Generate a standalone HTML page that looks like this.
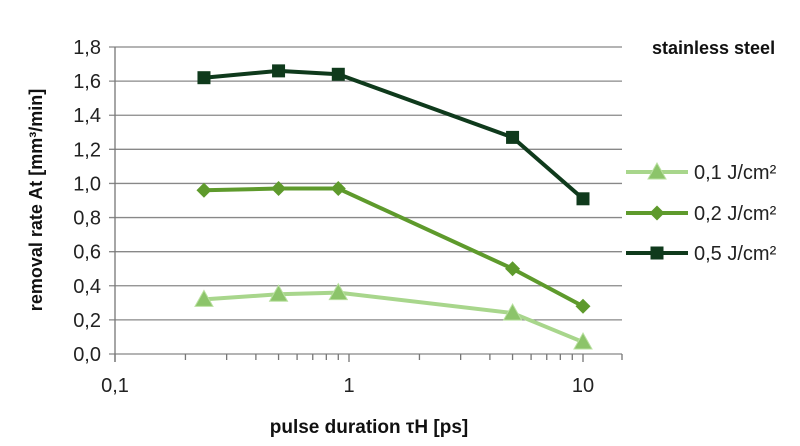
<!DOCTYPE html>
<html><head><meta charset="utf-8"><style>
html,body{margin:0;padding:0;background:#fff;}
svg{display:block;font-family:"Liberation Sans",sans-serif;}
</style></head><body>
<svg id="chart" width="800" height="446" viewBox="0 0 800 446" xmlns="http://www.w3.org/2000/svg"></svg>
<script>
const xValues = [0.24, 0.5, 0.9, 5, 10];
const series01 = [0.32, 0.35, 0.36, 0.24, 0.07];
const series02 = [0.96, 0.97, 0.97, 0.50, 0.28];
const series05 = [1.62, 1.66, 1.64, 1.27, 0.91];
const yTicks = [0, 0.2, 0.4, 0.6, 0.8, 1.0, 1.2, 1.4, 1.6, 1.8];
const xTicks = [0.1, 1, 10];
const seriesNames = ["0,1 J/cm²", "0,2 J/cm²", "0,5 J/cm²"];

const svg = document.getElementById('chart');
const NS = 'http://www.w3.org/2000/svg';
const L = 115, R = 622, T = 47, B = 354;
const xs = v => L + (Math.log10(v) + 1) * 234;
const ys = v => B - v / 1.8 * (B - T);
function mk(tag, attrs, parent) {
  const e = document.createElementNS(NS, tag);
  for (const k in attrs) e.setAttribute(k, attrs[k]);
  (parent || svg).appendChild(e);
  return e;
}
yTicks.forEach(v => {
  const g = mk('line', {x1: L - 6, x2: R, y1: ys(v), y2: ys(v), stroke: '#888', 'stroke-width': 1.3});
  
  
  const t = mk('text', {x: 101, y: ys(v) + 7, 'text-anchor': 'end', 'font-size': 20, fill: '#222'});
  t.textContent = v.toFixed(1).replace('.', ',');
  
  
});
const ya = mk('line', {x1: L, x2: L, y1: T, y2: B + 8, stroke: '#777', 'stroke-width': 1.3});


for (let d = 0.1; d < 100; d *= 10) {
  for (let m = 1; m <= 9; m++) {
    const v = d * m;
    if (xs(v) > R + 1) continue;
    const tk = mk('line', {x1: xs(v), x2: xs(v), y1: B, y2: B + (m === 1 ? 8 : 6), stroke: '#777', 'stroke-width': 1.3});
    
    
  }
}
const re = mk('line', {x1: R, x2: R, y1: B, y2: B + 6, stroke: '#777', 'stroke-width': 1.3});


xTicks.forEach(v => {
  const t = mk('text', {x: xs(v), y: 392, 'text-anchor': 'middle', 'font-size': 20, fill: '#222'});
  t.textContent = String(v).replace('.', ',');
  
  
});
const xt = mk('text', {x: 369, y: 433, 'text-anchor': 'middle', 'font-size': 19, 'font-weight': 'bold', fill: '#111'});
xt.textContent = 'pulse duration τH [ps]';


const yt = mk('text', {x: 0, y: 0, 'text-anchor': 'middle', 'font-size': 18, 'font-weight': 'bold', fill: '#111', transform: 'translate(42,200) rotate(-90)'});
yt.textContent = 'removal rate At [mm³/min]';


const st = mk('text', {x: 652, y: 54, 'font-size': 18, 'font-weight': 'bold', fill: '#111'});
st.textContent = 'stainless steel';



function marker(kind, x, y, color, parent) {
  if (kind === 'tri') return mk('polygon', {points: `${x},${y-9} ${x-9},${y+7} ${x+9},${y+7}`, fill: color, stroke: '#b9e0a0', 'stroke-width': 1}, parent);
  if (kind === 'dia') return mk('polygon', {points: `${x},${y-7.5} ${x+7.5},${y} ${x},${y+7.5} ${x-7.5},${y}`, fill: color}, parent);
  return mk('rect', {x: x - 6.5, y: y - 6.5, width: 13, height: 13, fill: color}, parent);
}
const defs = [
  {vals: series01, color: '#a8d68c', mcolor: '#8cc46a', kind: 'tri', name: 'series-0-1'},
  {vals: series02, color: '#5e9a2c', mcolor: '#5e9a2c', kind: 'dia', name: 'series-0-2'},
  {vals: series05, color: '#0f3a1c', mcolor: '#0f3a1c', kind: 'sq', name: 'series-0-5'}
];
const legY = [172, 213, 253];
defs.forEach((s, i) => {
  const g = mk('g', {});
  
  
  const pl = mk('polyline', {points: xValues.map((x, j) => xs(x) + ',' + ys(s.vals[j])).join(' '), fill: 'none', stroke: s.color, 'stroke-width': 4, 'stroke-linejoin': 'round'}, g);
  
  
  xValues.forEach((x, j) => {
    const m = marker(s.kind, xs(x), ys(s.vals[j]), s.mcolor, g);
    
    
  });
  const lg = mk('g', {});
  
  
  mk('line', {x1: 626, x2: 688, y1: legY[i], y2: legY[i], stroke: s.color, 'stroke-width': 4}, lg);
  marker(s.kind, 657, legY[i], s.mcolor, lg);
  const lt = mk('text', {x: 694, y: legY[i] + 7, 'font-size': 20, fill: '#222'}, lg);
  lt.textContent = seriesNames[i];
});
</script>
</body></html>
